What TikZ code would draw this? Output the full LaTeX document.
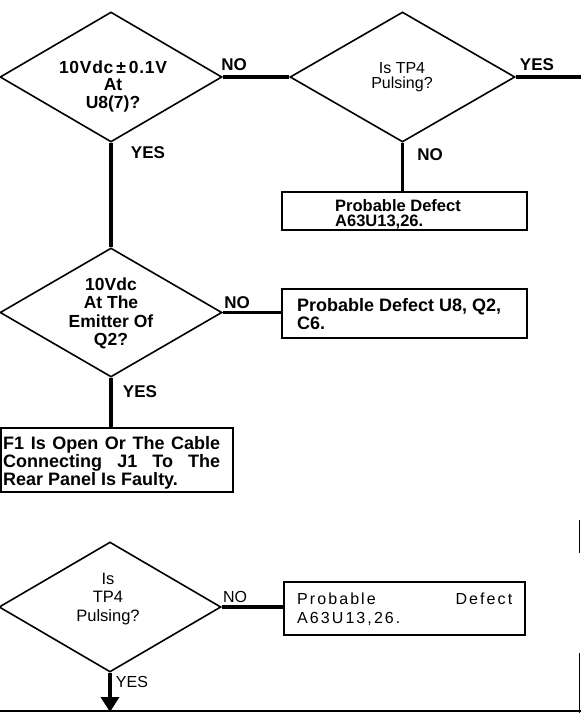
\documentclass[tikz,border=0pt]{standalone}
\usepackage{fontspec}
\setmainfont{Liberation Sans}
\usetikzlibrary{shapes.geometric,arrows.meta}
\tikzset{
  dia/.style={draw, shape=diamond, line width=1.6pt, inner sep=0pt, minimum width=222pt, minimum height=130pt},
  boxn/.style={draw, rectangle, line width=1.6pt, inner sep=0pt},
  conn/.style={line width=3.5pt},
  edgeln/.style={line width=1.5pt},
  lab/.style={font=\bfseries\fontsize{17}{17}\selectfont, inner sep=0pt},
  labr/.style={font=\fontsize{16}{16}\selectfont, inner sep=0pt},
  dtxt/.style={inner sep=0pt, align=center},
  btxt/.style={inner sep=0pt, anchor=west},
}
\begin{document}
\begin{tikzpicture}[x=1pt,y=-1pt]
\useasboundingbox[fill=white] (0,0) rectangle (581,713);

% decisions
\node[dia] (d1) at (111,77) {};
\node[dia, minimum width=225pt] (d2) at (402.5,77) {};
\node[dia, minimum height=129pt] (d3) at (111,312.5) {};
\node[dia] (d4) at (110,607) {};

\node[dtxt, font=\bfseries\fontsize{17.5}{17.5}\selectfont] (d1t) at (113,86)
  {{\addfontfeature{LetterSpace=4}10Vdc\,±\,0.1V}\\At\\U8(7)?};
\node[dtxt, font=\fontsize{16}{15.5}\selectfont] (d2t) at (402,77) {Is TP4\\Pulsing?};
\node[dtxt, font=\bfseries\fontsize{17.5}{18.3}\selectfont] (d3t) at (111,313.5)
  {10Vdc\\At The\\Emitter Of\\Q2?};
\node[dtxt, font=\fontsize{16.5}{18.5}\selectfont] (d4t) at (108,599) {Is\\TP4\\Pulsing?};

% result boxes
\node[boxn, minimum width=245pt, minimum height=38pt] (b1) at (404.5,211) {};
\node[boxn, minimum width=245pt, minimum height=49pt] (bu8) at (404.5,313.5) {};
\node[boxn, minimum width=232pt, minimum height=64pt] (bf1) at (117,460) {};
\node[boxn, minimum width=241pt, minimum height=53pt] (b4) at (404.5,608.5) {};

\node[btxt, align=left, font=\bfseries\fontsize{16.5}{15.5}\selectfont] (b1t) at (335,214.5)
  {Probable Defect\\A63U13,26.};
\node[btxt, align=left, font=\bfseries\fontsize{18}{18}\selectfont] (bu8t) at (297,314)
  {Probable Defect U8, Q2,\\C6.};
\node[btxt, text width=217pt, align=justify, font=\bfseries\fontsize{18}{18}\selectfont] (bf1t) at (3,463)
  {F1 Is Open Or The Cable\linebreak Connecting J1 To The\linebreak Rear Panel Is Faulty.};
\node[btxt, text width=215pt, align=justify, font=\fontsize{16}{19}\selectfont\addfontfeature{LetterSpace=13}] (b4t) at (297,609)
  {Probable Defect\linebreak A63U13,26.};

% free ends
\coordinate (e2) at (581,77);
\coordinate (arr) at (110,712);
\coordinate (bl) at (0,711);
\coordinate (br) at (581,711);
\coordinate (r1) at (579.5,653);
\coordinate (r2) at (579.5,713);
\coordinate (r3) at (579.5,520);
\coordinate (r4) at (579.5,553);

% connectors
\draw[conn] (d1.east) -- (d2.west);
\draw[conn] (d2.east) -- (e2);
\draw[conn] (d2.south) -- (d2.south |- b1.north);
\draw[conn] (d1.south) -- (d3.north);
\draw[conn] (d3.east) -- (d3.east -| bu8.west);
\draw[conn] (d3.south) -- (d3.south |- bf1.north);
\draw[conn] (d4.east) -- (d4.east -| b4.west);
\draw[conn, -{Triangle[width=18pt,length=15pt]}] (d4.south) -- (arr);
\draw[line width=2.2pt] (bl) -- (br);
\draw[edgeln] (r1) -- (r2);
\draw[edgeln] (r3) -- (r4);

% labels
\node[lab] (no1) at (234,65) {NO};
\node[lab] (yes2) at (537,65) {YES};
\node[lab] (no2) at (430,155) {NO};
\node[lab] (yes1) at (148,153) {YES};
\node[lab] (no3) at (237,303) {NO};
\node[lab] (yes3) at (140,392) {YES};
\node[labr] (no4) at (235,597) {NO};
\node[labr] (yes4) at (132,682) {YES};
\end{tikzpicture}
\end{document}
